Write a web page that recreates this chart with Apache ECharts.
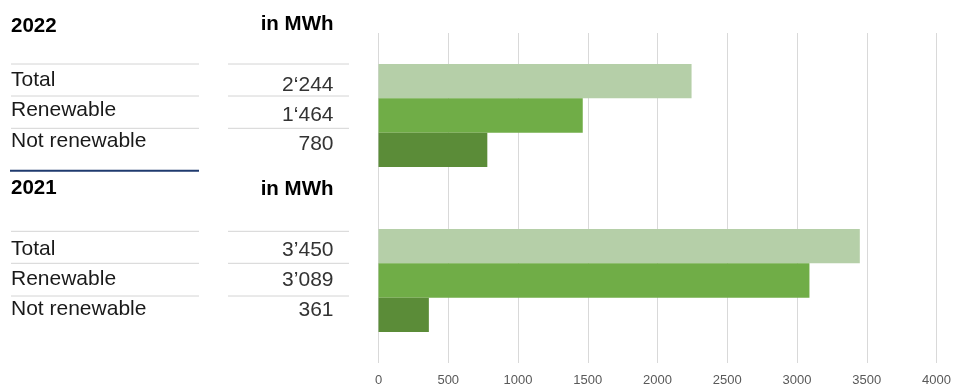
<!DOCTYPE html>
<html>
<head>
<meta charset="utf-8">
<title>Energy consumption</title>
<script src="https://cdn.jsdelivr.net/npm/echarts@6/dist/echarts.min.js"></script>
<style>
  html, body { margin: 0; padding: 0; background: #ffffff; }
  #chart { width: 954px; height: 388px; }
</style>
</head>
<body>
<div id="chart"></div>
<script>
// Energy consumption per year, in MWh
const years = ['2022', '2021'];
const rowNames = ['Total', 'Renewable', 'Not renewable'];
const totalMWh = [2244, 3450];
const renewableMWh = [1464, 3089];
const notRenewableMWh = [780, 361];
const thousandsSep = ['\u2018', '\u2019'];
const unitLabel = 'in MWh';
const xTicks = { min: 0, max: 4000, step: 500 };

const FONT = 'Liberation Sans, Arial, Helvetica, sans-serif';
const FS = 21;
const FS_BOLD = 20.5;
const colors = ['#b5cfa8', '#70ad47', '#5b8c38'];

function fmt(v, sep) {
  const s = String(v);
  return s.length > 3 ? s.slice(0, s.length - 3) + sep + s.slice(s.length - 3) : s;
}

// Table beside the bars: one block per year
const DY = 1.5;
const blocks = [
  { head: 24.7, unit: 23, lines: [64, 96, 128.3], labels: [78.7, 109, 139.7], values: [83.7, 113.7, 143] },
  { head: 187, unit: 188, lines: [231.3, 263.3, 296], labels: [248, 278, 308], values: [249, 278.7, 309] }
];

const graphics = [];
function text(str, x, y, opts) {
  graphics.push({
    type: 'text',
    silent: true,
    style: Object.assign({
      text: str, x: x, y: y + DY,
      font: 'normal ' + FS + 'px ' + FONT,
      fill: '#1a1a1a',
      align: 'left', verticalAlign: 'middle'
    }, opts || {})
  });
}
function hline(x1, x2, y, color, w) {
  graphics.push({
    type: 'line', silent: true,
    shape: { x1: x1, y1: y, x2: x2, y2: y },
    style: { stroke: color, lineWidth: w }
  });
}

const seriesData = [totalMWh, renewableMWh, notRenewableMWh];
years.forEach(function (yr, i) {
  const b = blocks[i];
  text(yr, 11, b.head, { font: 'bold ' + FS_BOLD + 'px ' + FONT, fill: '#000000' });
  text(unitLabel, 333.5, b.unit, { font: 'bold ' + FS_BOLD + 'px ' + FONT, fill: '#000000', align: 'right' });
  b.lines.forEach(function (ly) {
    hline(11, 199, ly, '#d4d4d4', 1);
    hline(228, 349, ly, '#d4d4d4', 1);
  });
  rowNames.forEach(function (name, r) {
    text(name, 11, b.labels[r]);
    text(fmt(seriesData[r][i], thousandsSep[i]), 333.5, b.values[r], { fill: '#333333', align: 'right' });
  });
});
hline(10, 199, 170.7, '#1f3a6e', 2);

const chart = echarts.init(document.getElementById('chart'), null, { renderer: 'canvas' });
chart.setOption({
  animation: false,
  backgroundColor: '#ffffff',
  grid: { left: 378.5, top: 33, width: 559.5, height: 330, containLabel: false },
  xAxis: {
    type: 'value',
    min: xTicks.min, max: xTicks.max, interval: xTicks.step,
    axisLine: { show: false },
    axisTick: { show: false },
    splitLine: { show: true, lineStyle: { color: '#d9d9d9', width: 1 } },
    axisLabel: {
      color: '#595959', fontSize: 13, fontFamily: FONT, margin: 11,
      formatter: function (v) { return String(v); }
    }
  },
  yAxis: {
    type: 'category',
    data: years,
    inverse: true,
    axisLine: { show: false },
    axisTick: { show: false },
    axisLabel: { show: false },
    splitLine: { show: false }
  },
  series: rowNames.map(function (name, r) {
    return {
      name: name,
      type: 'bar',
      data: seriesData[r],
      barWidth: 34.3,
      barGap: '0%',
      itemStyle: { color: colors[r] }
    };
  }),
  graphic: graphics
});
</script>
</body>
</html>
